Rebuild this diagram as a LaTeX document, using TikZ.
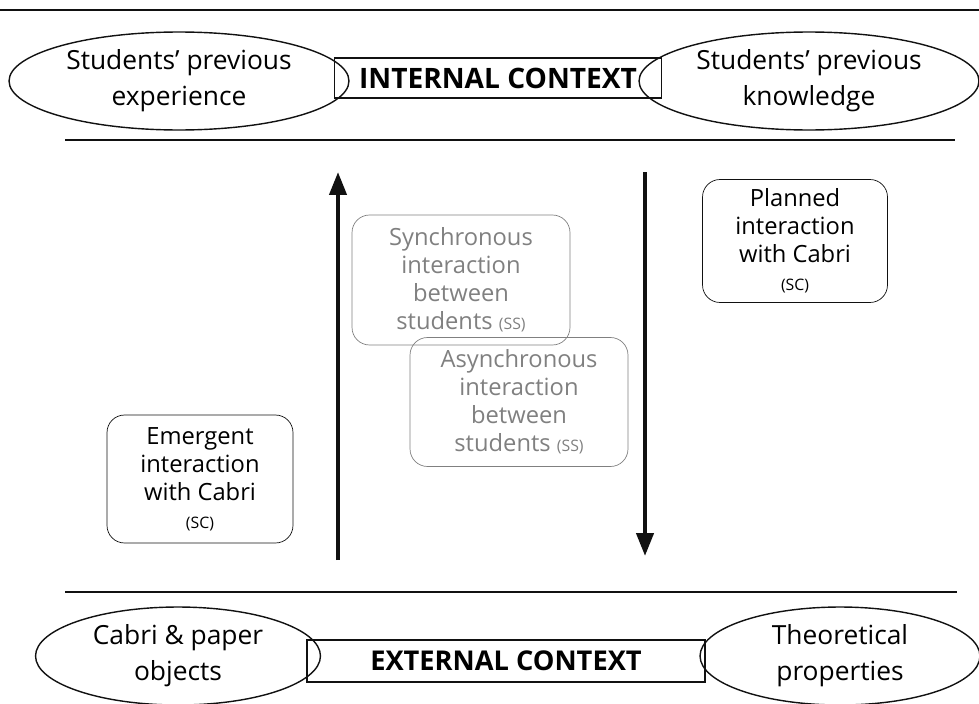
\documentclass[tikz,border=0pt]{standalone}
\usepackage{fontspec}
\setmainfont{Open Sans}
\usetikzlibrary{arrows.meta,positioning,shapes.geometric}
\definecolor{Ink}{HTML}{111111}
\definecolor{Mist}{HTML}{808080}
\newcommand{\tagtext}[1]{{\fontsize{9}{11}\selectfont(#1)}}

\begin{document}
\begin{tikzpicture}[x=0.02cm,y=-0.02cm,every node/.style={align=center},
    source/.style={draw=Ink,thick,ellipse,inner sep=0pt,minimum width=6.8cm,minimum height=1.96cm,font=\fontsize{15}{20.5}\selectfont},
    context/.style={draw=Ink,thick,inner sep=0pt,font=\fontsize{16}{18}\selectfont\bfseries},
    mode/.style={draw=Ink,rounded corners=0.35cm,inner sep=0pt,font=\fontsize{13.5}{16}\selectfont},
    flow/.style={-{Triangle[width=0.34cm,length=0.46cm]},line width=2.4pt,Ink}]
  \useasboundingbox (0,0) rectangle (979,703);

  % frame lines
  \draw[thick,Ink] (0,10) -- (979,10);
  \draw[thick,Ink] (65,140) -- (955,140);
  \draw[thick,Ink] (65,592) -- (957,592);

  % internal context
  \node[context,minimum width=6.54cm,minimum height=0.8cm] (ic) at (498,78) {INTERNAL CONTEXT};
  \node[source] (exp) at (179,81) {Students' previous\\experience};
  \node[source] (know) at (809,81) {Students' previous\\knowledge};

  % external context
  \node[context,font=\fontsize{15.5}{18}\selectfont\bfseries,minimum width=7.96cm,minimum height=0.84cm] (ec) at (506,661) {EXTERNAL CONTEXT};
  \node[source,minimum width=5.7cm] (obj) at (178,656) {Cabri \& paper\\objects};
  \node[source,minimum width=5.6cm] (prop) at (840,656) {Theoretical\\properties};

  % interaction modes
  \node[mode,draw=Mist,text=Mist,minimum width=4.36cm,minimum height=2.6cm] (sync) at (461,280) {Synchronous\\interaction\\between\\students \tagtext{SS}};
  \node[mode,draw=Mist,text=Mist,minimum width=4.36cm,minimum height=2.58cm] (async) at (519,402) {Asynchronous\\interaction\\between\\students \tagtext{SS}};
  \node[mode,minimum width=3.7cm,minimum height=2.46cm] (plan) at (795,241) {Planned\\interaction\\with Cabri\\\tagtext{SC}};
  \node[mode,minimum width=3.72cm,minimum height=2.56cm] (emerg) at (200,479) {Emergent\\interaction\\with Cabri\\\tagtext{SC}};

  % vertical flows
  \coordinate (upfoot) at (338,560);
  \coordinate (uptip) at (338,172);
  \coordinate (downfoot) at (645,172);
  \coordinate (downtip) at (645,556);
  \draw[flow] (upfoot) -- (uptip);
  \draw[flow] (downfoot) -- (downtip);
\end{tikzpicture}
\end{document}
